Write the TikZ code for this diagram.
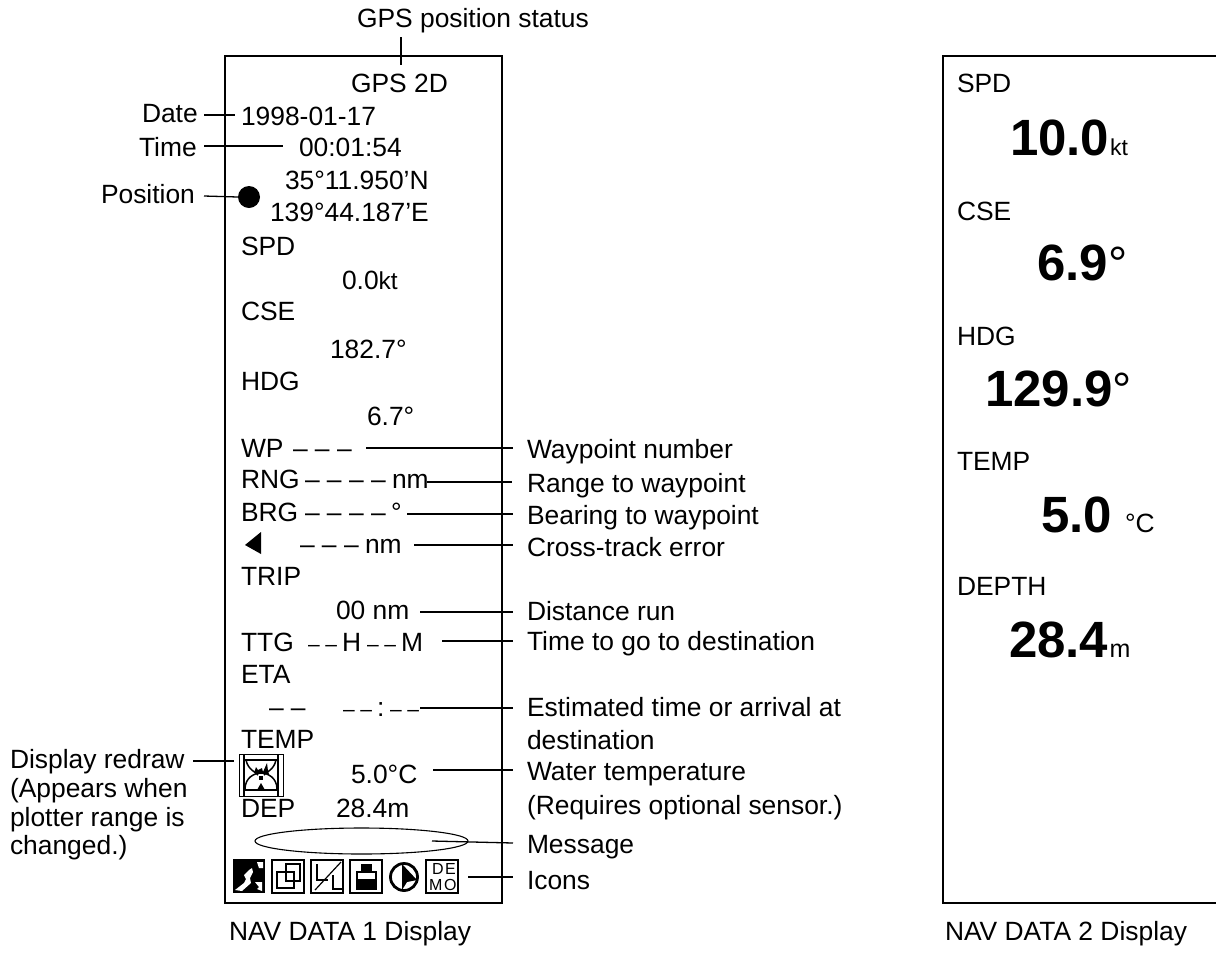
\documentclass[tikz,border=0pt]{standalone}
\usepackage{fontspec}
\usetikzlibrary{shapes.geometric}
\setmainfont{Liberation Sans}
\newcommand{\fz}[1]{\fontsize{#1}{#1}\selectfont}
\newcommand{\leader}[5]{\coordinate (#1a) at (#2,#3); \coordinate (#1b) at (#4,#5); \draw[leaderline] (#1a) -- (#1b);}
\tikzset{
  txt/.style={anchor=base west,inner sep=0pt,outer sep=0pt,font=\fz{26.4}},
  small/.style={txt,font=\fz{21}},
  big/.style={txt,font=\bfseries\fz{51}},
  leaderline/.style={line width=1.3pt,black},
  frame/.style={line width=2.4pt,black},
  iconbox/.style={line width=1.9pt,black},
  iconline/.style={line width=1.7pt,black},
}
\begin{document}
\begin{tikzpicture}[x=1pt,y=-1pt]
\useasboundingbox (0,0) rectangle (1216,954);
% frames
\draw[frame] (225,56) rectangle (502,903);
\draw[frame] (1217,56) -- (943,56) -- (943,903) -- (1217,903);
% top
\node[txt] (gpsstat) at (357,27) {GPS position status};
\node[txt] (gps) at (351,92) {GPS 2D};
\node[txt] (lDate) at (142,122) {Date};
\node[txt] (date) at (241,125) {1998-01-17};
\node[txt] (lTime) at (139,156) {Time};
\node[txt] (time) at (299,156) {00:01:54};
\node[txt] (lat) at (285,189) {35°11.950’N};
\node[txt] (lPos) at (101,203) {Position};
\node[txt] (lon) at (270,221) {139°44.187’E};
\node[circle,fill=black,minimum size=22pt,inner sep=0pt] (dot) at (249,197) {};
% left column
\node[txt] (spd) at (241,255) {SPD};
\node[txt] (spdv) at (342,289) {0.0\fz{24.5}kt};
\node[txt] (cse) at (241,320) {CSE};
\node[txt] (csev) at (330,358) {182.7°};
\node[txt] (hdg) at (241,390) {HDG};
\node[txt] (hdgv) at (367,425) {6.7°};
\node[txt] (wp) at (241,457) {WP};
\node[txt] (wpd) at (293,457) {– – –};
\node[txt] (rng) at (241,488) {RNG};
\node[txt] (rngd) at (305,488) {– – – –};
\node[txt] (rngu) at (392,488) {nm};
\node[txt] (brg) at (241,521) {BRG};
\node[txt] (brgd) at (305,521) {– – – –};
\node[txt] (brgu) at (391,521) {°};
\fill (245,545) -- (261,532) -- (261,554) -- cycle;
\node[txt] (xted) at (300,553) {– – –};
\node[txt] (xteu) at (365,553) {nm};
\node[txt] (trip) at (241,585) {TRIP};
\node[txt] (tripv) at (336,619) {00 nm};
\node[txt] (ttg) at (241,651) {TTG};
\node[small] (ttgd1) at (308,651) {– –};
\node[txt] (ttgh) at (342,651) {H};
\node[small] (ttgd2) at (367,651) {– –};
\node[txt] (ttgm) at (401,651) {M};
\node[txt] (eta) at (241,683) {ETA};
\node[txt] (etad) at (269,716) {– –};
\node[small] (etat1) at (343,716) {– –};
\node[txt] (etac) at (377,716) {:};
\node[small] (etat2) at (390,716) {– –};
\node[txt] (temp) at (241,748) {TEMP};
\node[txt] (tempv) at (351,783) {5.0°C};
\node[txt] (dep) at (241,817) {DEP};
\node[txt] (depv) at (336,817) {28.4m};
% hourglass
\node[draw,line width=0.9pt,minimum width=44pt,minimum height=42pt,inner sep=0pt] (glass) at (261,775) {};
\draw[line width=1.5pt] (244,754) -- (244,796) (278,754) -- (278,796);
\draw[line width=1.5pt] (244,760) -- (278,760) (244,790) -- (278,790);
\draw[line width=1.5pt] (246,760) .. controls (248,770) and (256,772) .. (258,775);
\draw[line width=1.5pt] (276,760) .. controls (274,770) and (266,772) .. (264,775);
\draw[line width=1.5pt] (245,789) .. controls (245,778) and (254,773) .. (261,773) .. controls (268,773) and (277,778) .. (277,789);
\fill (254,773) -- (256,767) -- (258,770) -- (262,768) -- (263,772) -- (267,763) -- (268,771) -- (269,774) -- cycle;
\fill (259,776) rectangle (263,780);
\fill (261,783) -- (257,790) -- (265,790) -- cycle;
% ellipse
\node[draw,ellipse,line width=1.1pt,minimum width=213pt,minimum height=26pt,inner sep=0pt] (msg) at (361.5,841) {};
% icon 1
\fill (233,859) rectangle (265,893);
\begin{scope}[shift={(233,859)}]
\fill[white] (2,31) -- (11,24) -- (13,20) -- (11,16) -- (16,11) -- (19,9) -- (20,13) -- (17,19) -- (18,24) -- (9,32) -- cycle;
\fill[white] (24,3) -- (30,3) -- (30,9) -- (26,9) -- cycle;
\fill[white] (22,23) -- (29,23) -- (29,32) -- (24,30) -- (26,28) -- cycle;
\end{scope}
% icon 2
\draw[iconbox] (272,860) rectangle (304,893);
\draw[iconline] (277,872) rectangle (294,888);
\draw[iconline] (286,864) rectangle (300,881);
% icon 3
\draw[iconbox] (311,860) rectangle (343,893);
\draw[line width=2.4pt] (317,864) -- (317,880) -- (328,880);
\draw[line width=2.4pt] (333,875) -- (333,889) -- (342,889);
\draw[line width=1.2pt] (315,890) -- (341,862);
% icon 4
\draw[iconbox] (350,860) rectangle (382,893);
\fill (361,864) rectangle (372,872);
\draw[line width=1.8pt] (357,872) rectangle (376,889);
\fill (357,879) rectangle (376,889);
% icon 5
\draw[line width=2.8pt] (404,877) circle (13.5);
\fill (402,864) -- (417,880) -- (407,882) -- (402,890) -- cycle;
% icon 6
\draw[iconbox] (426,860) rectangle (458,893);
\node[txt,font=\fz{16}] (dd) at (432,874) {D};
\node[txt,font=\fz{16}] (ee) at (445,874) {E};
\node[txt,font=\fz{16}] (mm) at (429,890) {M};
\node[txt,font=\fz{16}] (oo) at (444,890) {O};
% left labels
\node[txt] (redraw) at (10,768) {Display redraw};
\node[txt] (redraw2) at (10,797) {(Appears when};
\node[txt] (redraw3) at (10,826) {plotter range is};
\node[txt] (redraw4) at (10,854) {changed.)};
% right labels
\node[txt] (lWp) at (527,458) {Waypoint number};
\node[txt] (lRng) at (527,492) {Range to waypoint};
\node[txt] (lBrg) at (527,524) {Bearing to waypoint};
\node[txt] (lXte) at (527,556) {Cross-track error};
\node[txt] (lDist) at (527,620) {Distance run};
\node[txt] (lTtg) at (527,650) {Time to go to destination};
\node[txt] (lEta) at (527,716) {Estimated time or arrival at};
\node[txt] (lEta2) at (527,749) {destination};
\node[txt] (lWat) at (527,780) {Water temperature};
\node[txt] (lWat2) at (527,814) {(Requires optional sensor.)};
\node[txt] (lMsg) at (527,853) {Message};
\node[txt] (lIco) at (527,889) {Icons};
% leaders
\leader{gL}{401}{37}{401}{65}
\leader{dL}{204}{115}{235}{115}
\leader{tL}{204}{146}{283}{146}
\coordinate (pL) at (204,196); \draw[leaderline] (pL) -- (dot.west);
\leader{wL}{366}{448}{513}{448}
\leader{rL}{427}{482}{512}{482}
\leader{bL}{407}{514}{513}{514}
\leader{xL}{414}{545}{513}{545}
\leader{nL}{420}{612}{513}{612}
\leader{oL}{442}{641}{513}{641}
\leader{eL}{420}{708}{513}{708}
\leader{rdL}{193}{761}{234}{761}
\leader{wtL}{433}{770}{513}{770}
\leader{mL}{432}{841}{513}{843}
\leader{iL}{468}{877}{513}{877}
% right panel
\node[txt] (spd2) at (957,92) {SPD};
\node[big] (spd2v) at (1010,155) {10.0};
\node[txt,font=\fz{23}] (spd2u) at (1110,155) {kt};
\node[txt] (cse2) at (957,220) {CSE};
\node[big] (cse2v) at (1037,280) {6.9};
\node[txt,font=\fz{48}] (cse2u) at (1108,280) {°};
\node[txt] (hdg2) at (957,345) {HDG};
\node[big] (hdg2v) at (985,406) {129.9};
\node[txt,font=\fz{48}] (hdg2u) at (1112,406) {°};
\node[txt] (tmp2) at (957,470) {TEMP};
\node[big] (tmp2v) at (1041,532) {5.0};
\node[txt] (tmp2u) at (1125,532) {°C};
\node[txt] (dep2) at (957,595) {DEPTH};
\node[big] (dep2v) at (1009,657) {28.4};
\node[txt,font=\fz{25}] (dep2u) at (1109.5,657) {m};
% captions
\node[txt] (cap1) at (229,940) {NAV DATA 1 Display};
\node[txt] (cap2) at (945,940) {NAV DATA 2 Display};
\end{tikzpicture}
\end{document}
